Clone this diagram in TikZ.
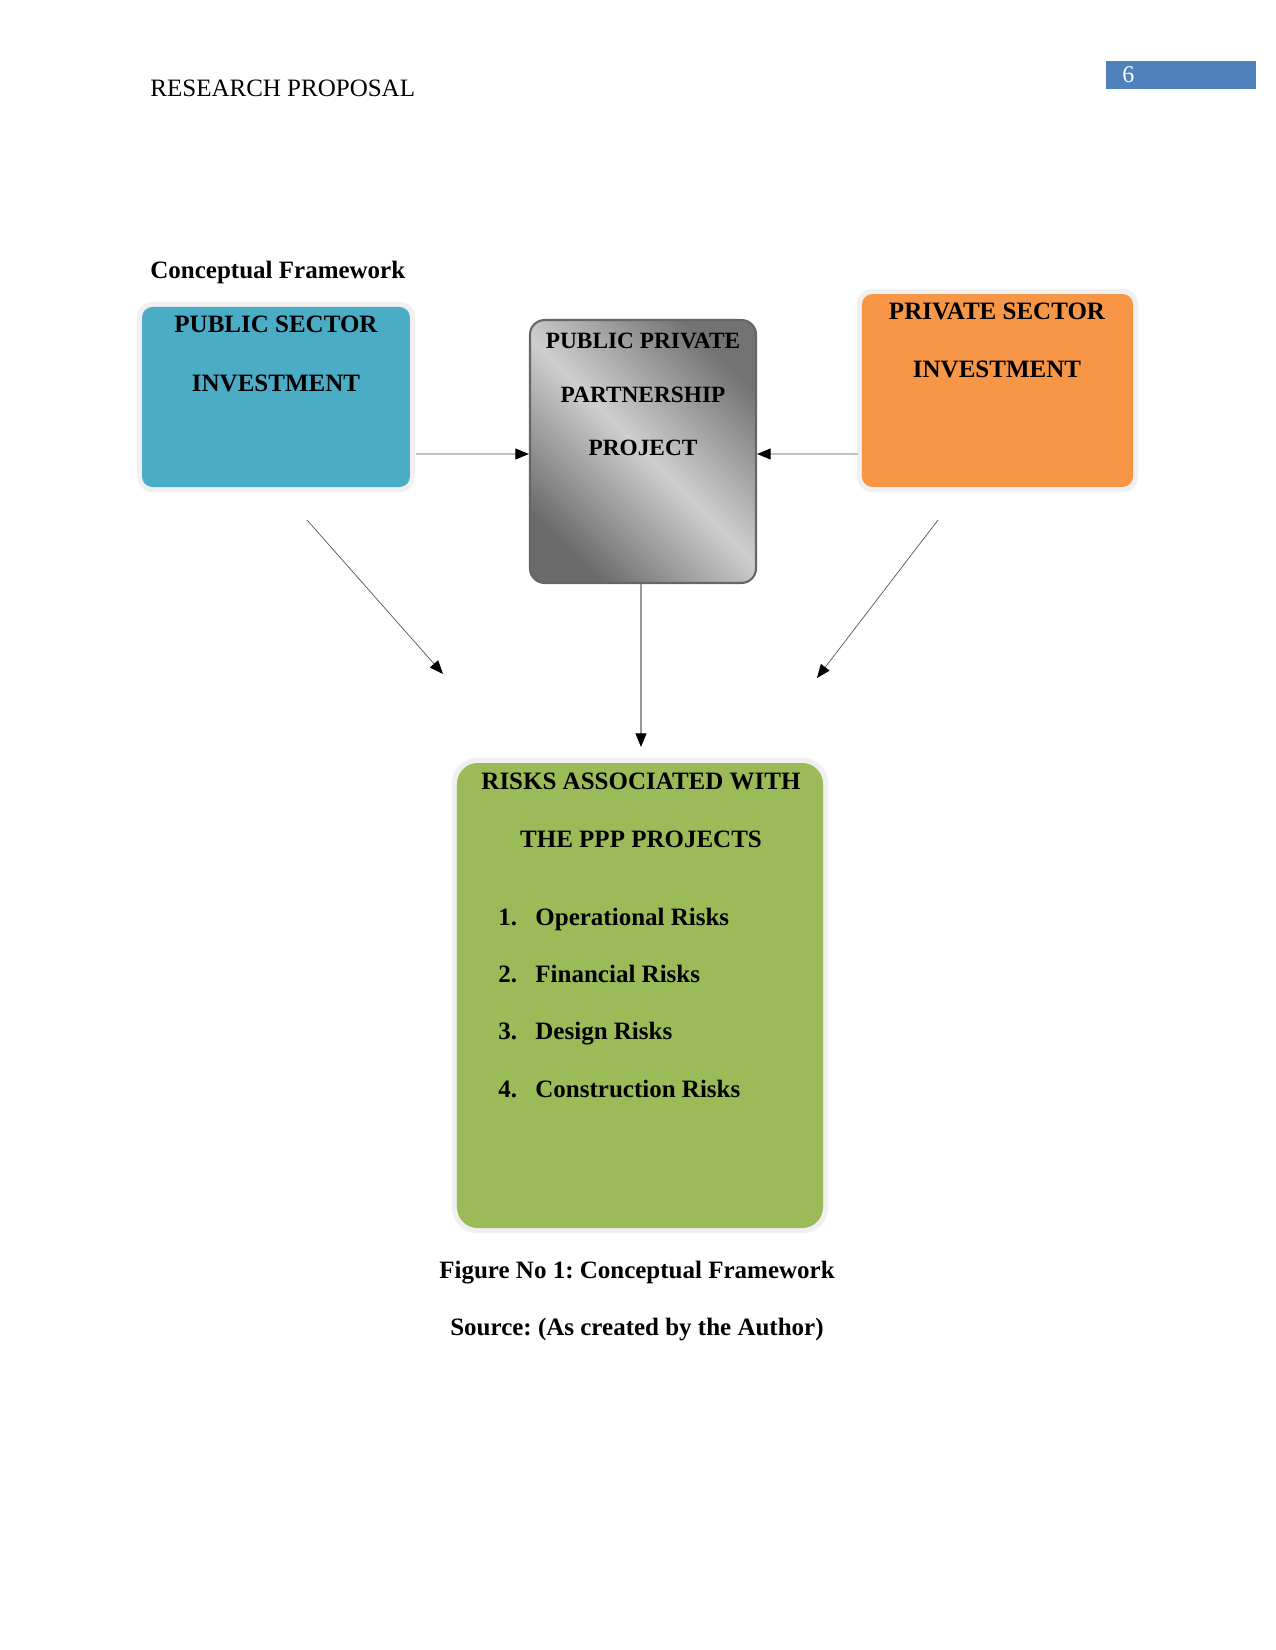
\documentclass[tikz,border=0pt]{standalone}
\usepackage{fontspec}
\setmainfont{Liberation Serif}
\usetikzlibrary{arrows.meta}
\definecolor{pubblue}{HTML}{4BACC6}
\definecolor{privorange}{HTML}{F79646}
\definecolor{riskgreen}{HTML}{9BBB59}
\definecolor{pagebox}{HTML}{4F81BD}
\frenchspacing
\begin{document}
\begin{tikzpicture}[x=0.48pt,y=-0.48pt,
  cbox/.style={inner sep=0pt, preaction={draw=black!6, line width=5pt}},
  btxt/.style={anchor=base, font=\fontsize{12}{14.4}\selectfont\bfseries, inner sep=0pt},
  stxt/.style={anchor=base, font=\fontsize{11.2}{13.4}\selectfont\bfseries, inner sep=0pt},
  ltxt/.style={anchor=base west, font=\fontsize{12}{14.4}\selectfont\bfseries, inner sep=0pt},
  tip/.style={-{Triangle[length=6.5pt,width=5.2pt,color=black,fill=black]}},
  hconn/.style={tip, draw=black!25, line width=0.5pt},
  dconn/.style={tip, draw=black!65, line width=0.35pt},
  vconn/.style={tip, draw=black!40, line width=0.5pt}
]
\useasboundingbox (0,0) rectangle (1275,1650);

% header
\node[anchor=base west, font=\fontsize{12}{14.4}\selectfont, inner sep=0pt] (hdr) at (150,97) {RESEARCH PROPOSAL};
\node[fill=pagebox, minimum width=72pt, minimum height=13.4pt, inner sep=0pt] (pg) at (1181,75) {};
\node[anchor=base west, font=\fontsize{11.5}{13}\selectfont, text=white, inner sep=0pt] (pgnum) at (1122,83) {6};
\node[ltxt] (title) at (150,279) {Conceptual Framework};

% boxes
\node[cbox, fill=pubblue, rounded corners=5pt, minimum width=128.6pt, minimum height=86.4pt] (pub) at (276,397) {};
\node[inner sep=0pt, rounded corners=7pt, draw=black!60, line width=1pt,
      top color=black!55, bottom color=black!58, middle color=black!19, shading angle=-45,
      minimum width=108.5pt, minimum height=126.2pt] (ppp) at (643,451.5) {};
\node[cbox, fill=privorange, rounded corners=5pt, minimum width=130.1pt, minimum height=92.6pt] (priv) at (997.5,390.5) {};
\node[cbox, fill=riskgreen, rounded corners=10pt, minimum width=175.7pt, minimum height=223.2pt] (risk) at (640,995.5) {};

% box texts
\node[btxt] (pubt1) at (276,333) {PUBLIC SECTOR};
\node[btxt] (pubt2) at (276,392) {INVESTMENT};
\node[stxt] (pppt1) at (643,349) {PUBLIC PRIVATE};
\node[stxt] (pppt2) at (643,403) {PARTNERSHIP};
\node[stxt] (pppt3) at (643,456) {PROJECT};
\node[btxt] (privt1) at (997,320) {PRIVATE SECTOR};
\node[btxt] (privt2) at (997,378) {INVESTMENT};
\node[btxt] (riskt1) at (641,789) {RISKS ASSOCIATED WITH};
\node[btxt] (riskt2) at (641,847) {THE PPP PROJECTS};
\node[ltxt] (n1) at (498,925) {1.};
\node[ltxt] (i1) at (535,925) {Operational Risks};
\node[ltxt] (n2) at (498,982) {2.};
\node[ltxt] (i2) at (535,982) {Financial Risks};
\node[ltxt] (n3) at (498,1039) {3.};
\node[ltxt] (i3) at (535,1039) {Design Risks};
\node[ltxt] (n4) at (498,1097) {4.};
\node[ltxt] (i4) at (535,1097) {Construction Risks};

% captions
\node[btxt] (cap1) at (637,1278) {Figure No 1: Conceptual Framework};
\node[btxt] (cap2) at (637,1335) {Source: (As created by the Author)};

% connectors
\coordinate (hy) at (0,454);
\coordinate (pubout) at ([xshift=2.9pt]pub.east);
\coordinate (privout) at ([xshift=-1.9pt]priv.west);
\draw[hconn] (pubout |- hy) -- (ppp.west |- hy);
\draw[hconn] (privout |- hy) -- (ppp.east |- hy);
\coordinate (vend) at (641,747);
\draw[vconn] (ppp.south -| vend) -- (vend);
\coordinate (l1) at (307,520);
\coordinate (l2) at (443,674);
\coordinate (r1) at (938,520);
\coordinate (r2) at (817,678);
\draw[dconn] (l1) -- (l2);
\draw[dconn] (r1) -- (r2);
\end{tikzpicture}
\end{document}
